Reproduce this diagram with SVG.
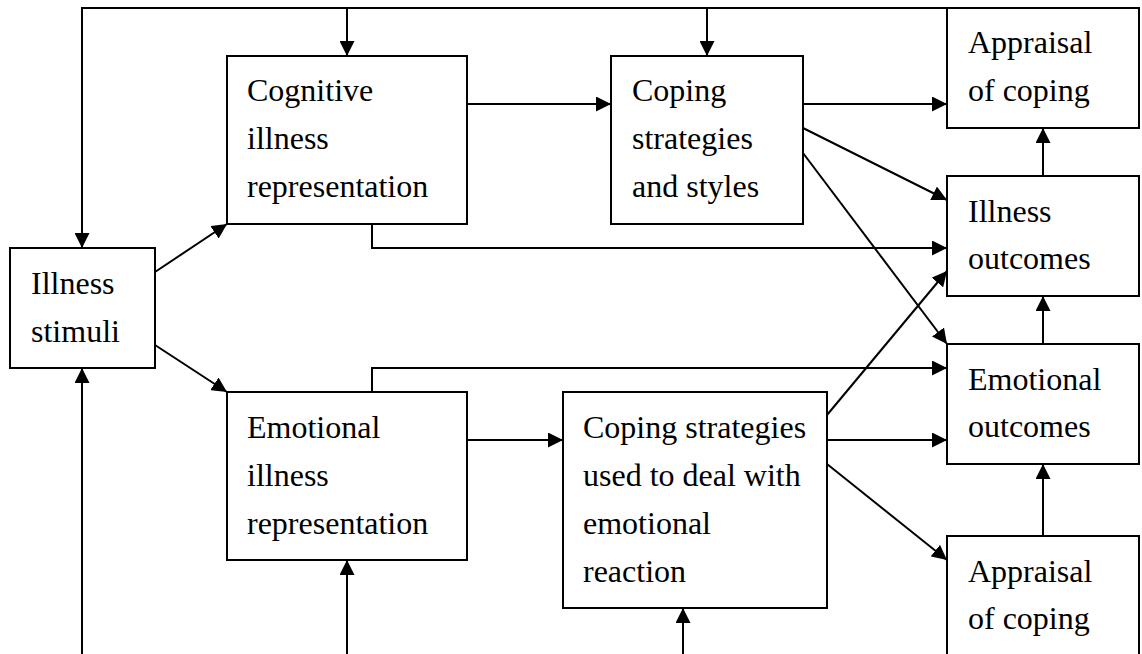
<svg xmlns="http://www.w3.org/2000/svg" width="1142" height="654" viewBox="0 0 1142 654">
  <style>
    .box { fill: #ffffff; stroke: #000000; stroke-width: 2; }
    .lbl { font-family: "Liberation Serif", "Times New Roman", serif; font-size: 32px; fill: #000000; }
    .conn { fill: none; stroke: #000000; stroke-width: 2; marker-end: url(#arrow); }
  </style>
  <defs>
    <marker id="arrow" markerUnits="userSpaceOnUse" markerWidth="16" markerHeight="15" refX="15" refY="7.5" orient="auto">
      <path d="M0,0 L15,7.5 L0,15 Z" fill="#000000"/>
    </marker>
  </defs>
  <rect width="1142" height="654" fill="#ffffff"/>

  <g id="connectors">
    <!-- feedback loop along the top -->
    <path class="conn" d="M947,8 H82 V248"/>
    <path class="conn" d="M347,8 V56"/>
    <path class="conn" d="M707,8 V56"/>
    <!-- inputs from the bottom edge -->
    <path class="conn" d="M82,654 V368"/>
    <path class="conn" d="M347,654 V560"/>
    <path class="conn" d="M683,654 V608"/>
    <!-- stimuli to representations -->
    <path class="conn" d="M155,272 L227,224"/>
    <path class="conn" d="M155,345 L227,392"/>
    <!-- cognitive branch -->
    <path class="conn" d="M467,104 H611"/>
    <path class="conn" d="M803,104 H947"/>
    <path class="conn" d="M803,128 L947,200"/>
    <path class="conn" d="M803,153 L947,344"/>
    <path class="conn" d="M372,224 V248 H947"/>
    <!-- emotional branch -->
    <path class="conn" d="M372,392 V368 H947"/>
    <path class="conn" d="M467,440 H563"/>
    <path class="conn" d="M827,415 L947,271"/>
    <path class="conn" d="M827,440 H947"/>
    <path class="conn" d="M827,464 L947,560"/>
    <!-- right column links -->
    <path class="conn" d="M1043,176 V128"/>
    <path class="conn" d="M1043,344 V296"/>
    <path class="conn" d="M1043,536 V464"/>
  </g>

  <g id="illness-stimuli">
    <rect class="box" x="10" y="248" width="145" height="120"/>
    <text class="lbl" x="31" y="294">Illness</text>
    <text class="lbl" x="31" y="342">stimuli</text>
  </g>

  <g id="cognitive-representation">
    <rect class="box" x="227" y="56" width="240" height="168"/>
    <text class="lbl" x="247" y="101">Cognitive</text>
    <text class="lbl" x="247" y="149">illness</text>
    <text class="lbl" x="247" y="197">representation</text>
  </g>

  <g id="emotional-representation">
    <rect class="box" x="227" y="392" width="240" height="168"/>
    <text class="lbl" x="247" y="438">Emotional</text>
    <text class="lbl" x="247" y="486">illness</text>
    <text class="lbl" x="247" y="534">representation</text>
  </g>

  <g id="coping-strategies">
    <rect class="box" x="611" y="56" width="192" height="168"/>
    <text class="lbl" x="632" y="101">Coping</text>
    <text class="lbl" x="632" y="149">strategies</text>
    <text class="lbl" x="632" y="197">and styles</text>
  </g>

  <g id="emotional-coping">
    <rect class="box" x="563" y="392" width="264" height="216"/>
    <text class="lbl" x="583" y="438">Coping strategies</text>
    <text class="lbl" x="583" y="486">used to deal with</text>
    <text class="lbl" x="583" y="534">emotional</text>
    <text class="lbl" x="583" y="582">reaction</text>
  </g>

  <g id="appraisal-top">
    <rect class="box" x="947" y="8" width="192" height="120"/>
    <text class="lbl" x="968" y="53">Appraisal</text>
    <text class="lbl" x="968" y="101">of coping</text>
  </g>

  <g id="illness-outcomes">
    <rect class="box" x="947" y="176" width="192" height="120"/>
    <text class="lbl" x="968" y="222">Illness</text>
    <text class="lbl" x="968" y="269">outcomes</text>
  </g>

  <g id="emotional-outcomes">
    <rect class="box" x="947" y="344" width="192" height="120"/>
    <text class="lbl" x="968" y="390">Emotional</text>
    <text class="lbl" x="968" y="437">outcomes</text>
  </g>

  <g id="appraisal-bottom">
    <rect class="box" x="947" y="536" width="192" height="130"/>
    <text class="lbl" x="968" y="582">Appraisal</text>
    <text class="lbl" x="968" y="629">of coping</text>
  </g>
</svg>
